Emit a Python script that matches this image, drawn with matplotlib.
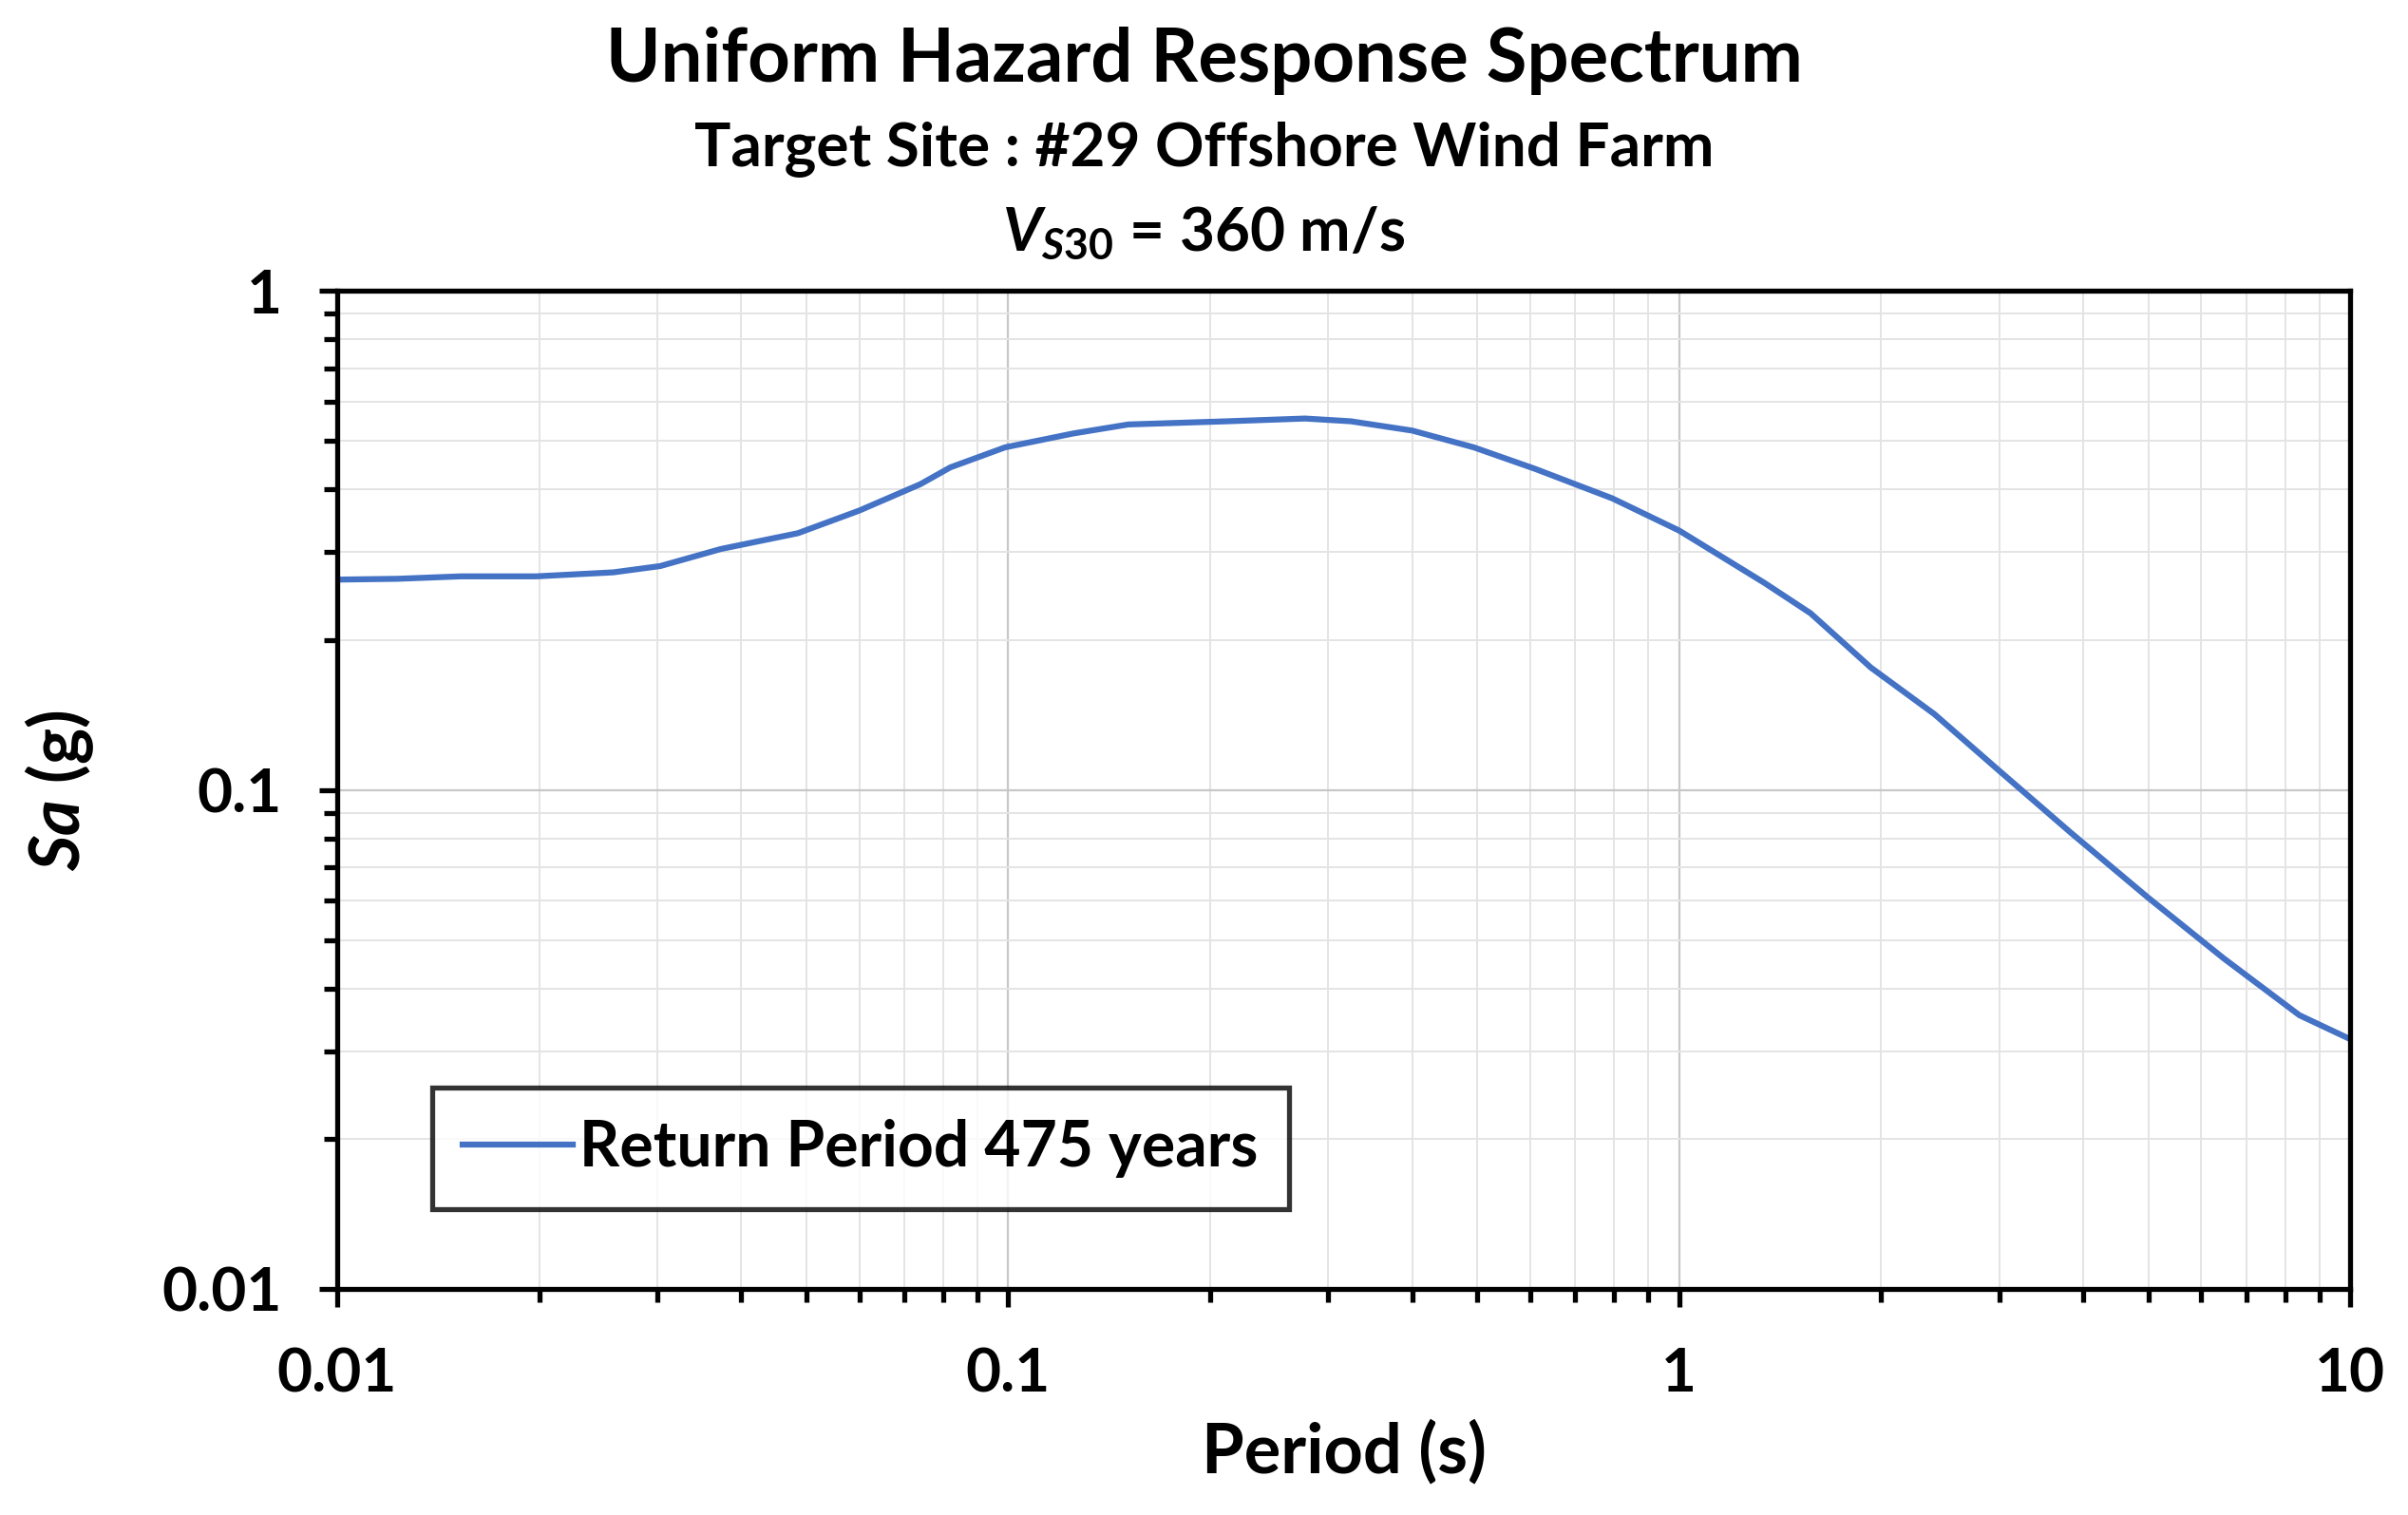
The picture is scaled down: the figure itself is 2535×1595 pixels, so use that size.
import matplotlib
matplotlib.use("Agg")
import matplotlib.pyplot as plt
import matplotlib.ticker as mticker
import numpy as np

# Uniform hazard spectrum, return period 475 years
period = [0.01, 0.0123, 0.0153, 0.0198, 0.0258, 0.0303, 0.0373, 0.0486, 0.060,
          0.074, 0.082, 0.099, 0.125, 0.151, 0.212, 0.277, 0.324, 0.40, 0.494,
          0.61, 0.795, 1.0, 1.34, 1.57, 1.93, 2.4, 2.96, 3.84, 4.99, 6.48, 8.4, 10.0]
sa = [0.264, 0.265, 0.268, 0.268, 0.273, 0.281, 0.304, 0.327, 0.363,
      0.41, 0.443, 0.486, 0.518, 0.54, 0.548, 0.555, 0.548, 0.525, 0.486,
      0.44, 0.384, 0.331, 0.26, 0.226, 0.176, 0.142, 0.111, 0.082, 0.061, 0.046, 0.0354, 0.0317]

x_ticks = [0.01, 0.1, 1, 10]
y_ticks = [0.01, 0.1, 1]
series_label = "Return Period 475 years"

plt.rcParams["font.family"] = ["Lato", "DejaVu Sans"]
plt.rcParams["font.weight"] = "bold"
plt.rcParams["mathtext.fontset"] = "custom"
plt.rcParams["mathtext.rm"] = "Lato:bold"
plt.rcParams["mathtext.it"] = "Lato:bold:italic"

fig = plt.figure(figsize=(25.35, 15.95), dpi=100)
ax = fig.add_axes([0.140, 0.149, 0.836, 0.659])

ax.plot(period, sa, color="#4472C4", lw=4.5, label=series_label)

ax.set_xscale("log")
ax.set_yscale("log")
ax.set_xlim(0.01, 10)
ax.set_ylim(0.01, 1)

ax.set_xticks(x_ticks)
ax.set_yticks(y_ticks)
fmt = mticker.FuncFormatter(lambda v, p: f"{v:g}")
ax.xaxis.set_major_formatter(fmt)
ax.yaxis.set_major_formatter(fmt)
ax.xaxis.set_minor_formatter(mticker.NullFormatter())
ax.yaxis.set_minor_formatter(mticker.NullFormatter())

ax.grid(which="major", color="#c8c8c8", lw=1.6)
ax.grid(which="minor", color="#e4e4e4", lw=1.4)
ax.set_axisbelow(True)

for s in ax.spines.values():
    s.set_linewidth(3.8)
    s.set_color("black")

ax.tick_params(which="major", direction="out", length=14, width=3.8,
               labelsize=46)
ax.tick_params(axis="x", which="major", pad=30)
ax.tick_params(axis="y", which="major", pad=28)
ax.tick_params(which="minor", direction="out", length=10, width=3.8)

ax.set_xlabel("Period (s)", fontsize=52, fontweight="bold", labelpad=14)
ax.set_ylabel(r"$Sa$ (g)", fontsize=52, fontweight="bold", labelpad=50)

fig.text(0.5, 0.960, "Uniform Hazard Response Spectrum", ha="center", va="center",
         fontsize=56, fontweight="bold")
fig.text(0.5, 0.902, "Target Site : #29 Offshore Wind Farm", ha="center", va="center",
         fontsize=46, fontweight="bold")
fig.text(0.5, 0.846, r"$V_{S30}$ = 360 m/s", ha="center", va="center",
         fontsize=46, fontweight="bold")

leg = ax.legend(loc="lower left", bbox_to_anchor=(0.047, 0.08), fontsize=47.5,
                frameon=True, fancybox=False, handlelength=1.75, handletextpad=0.1,
                borderpad=0.5, borderaxespad=0)
leg.get_frame().set_edgecolor("black")
leg.get_frame().set_linewidth(3.8)

fig.savefig("out.png", dpi=100)
